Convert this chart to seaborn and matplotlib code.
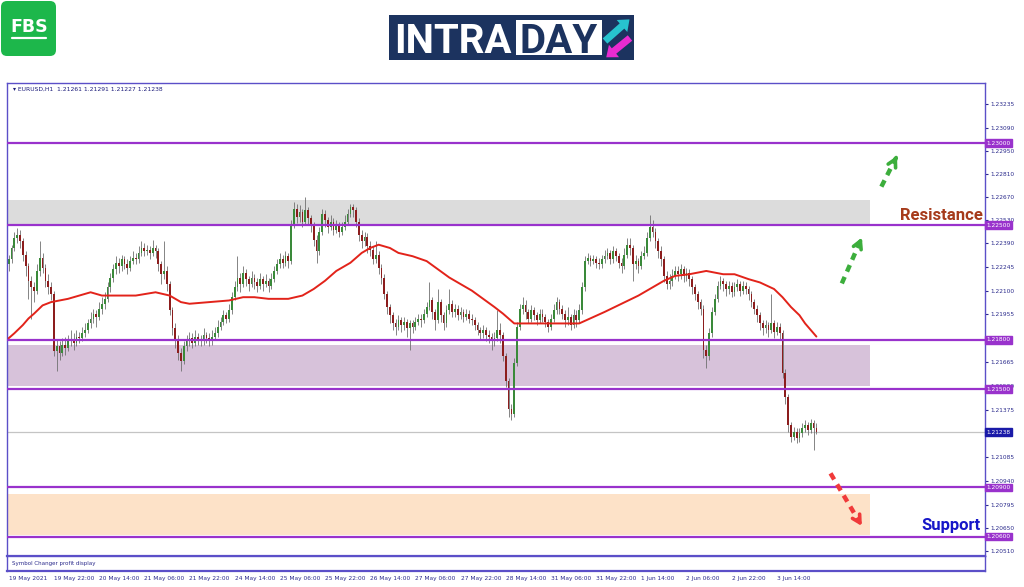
import numpy as np
import matplotlib
matplotlib.use('Agg')
import matplotlib.pyplot as plt
import matplotlib.transforms as mtransforms
from matplotlib.patches import Rectangle, FancyBboxPatch, FancyArrow
import seaborn as sns

sns.set_style('white')
plt.rcParams['font.family'] = ['DejaVu Sans']

# ---- EURUSD H1 candles ----
first_open = 1.2226
closes = [
    1.2229, 1.2236, 1.2242, 1.2244, 1.2240, 1.2232, 1.2225, 1.2216, 1.2212, 1.2210,
    1.2222, 1.2230, 1.2224, 1.2216, 1.2212, 1.2208, 1.2173, 1.2176, 1.2172, 1.2177,
    1.2175, 1.2179, 1.2180, 1.2178, 1.2182, 1.2181, 1.2184, 1.2186, 1.2190, 1.2193,
    1.2196, 1.2194, 1.2199, 1.2202, 1.2205, 1.2212, 1.2218, 1.2223, 1.2227, 1.2225,
    1.2229, 1.2226, 1.2224, 1.2228, 1.2230, 1.2229, 1.2233, 1.2236, 1.2234, 1.2235,
    1.2233, 1.2236, 1.2234, 1.2226, 1.2220, 1.2222, 1.2214, 1.2198, 1.2187, 1.2180,
    1.2172, 1.2167, 1.2176, 1.2179, 1.2181, 1.2178, 1.2182, 1.2180, 1.2179, 1.2183,
    1.2181, 1.2179, 1.2182, 1.2184, 1.2188, 1.2191, 1.2195, 1.2193, 1.2198, 1.2206,
    1.2212, 1.2218, 1.2214, 1.2221, 1.2217, 1.2214, 1.2218, 1.2215, 1.2213, 1.2217,
    1.2214, 1.2216, 1.2213, 1.2217, 1.2222, 1.2226, 1.2229, 1.2227, 1.2231, 1.2228,
    1.2250, 1.2260, 1.2255, 1.2258, 1.2252, 1.2259, 1.2254, 1.2250, 1.2241, 1.2234,
    1.2246, 1.2257, 1.2253, 1.2249, 1.2252, 1.2247, 1.2250, 1.2246, 1.2249, 1.2252,
    1.2257, 1.2261, 1.2259, 1.2252, 1.2244, 1.2240, 1.2243, 1.2237, 1.2235, 1.2229,
    1.2232, 1.2224, 1.2218, 1.2208, 1.2200, 1.2195, 1.2190, 1.2188, 1.2192, 1.2189,
    1.2191, 1.2187, 1.2190, 1.2188, 1.2191, 1.2193, 1.2192, 1.2196, 1.2200, 1.2204,
    1.2197, 1.2192, 1.2203, 1.2195, 1.2190, 1.2198, 1.2202, 1.2197, 1.2199, 1.2195,
    1.2197, 1.2194, 1.2196, 1.2193, 1.2192, 1.2189, 1.2186, 1.2184, 1.2186, 1.2183,
    1.2182, 1.2179, 1.2181, 1.2186, 1.2183, 1.2170, 1.2155, 1.2138, 1.2135, 1.2166,
    1.2188, 1.2199, 1.2201, 1.2197, 1.2193, 1.2198, 1.2195, 1.2192, 1.2196, 1.2194,
    1.2191, 1.2188, 1.2193, 1.2198, 1.2203, 1.2199, 1.2196, 1.2192, 1.2194, 1.2189,
    1.2195, 1.2192, 1.2198, 1.2212, 1.2228, 1.2230, 1.2228, 1.2229, 1.2227, 1.2226,
    1.2229, 1.2231, 1.2233, 1.2229, 1.2234, 1.2231, 1.2227, 1.2225, 1.2232, 1.2238,
    1.2236, 1.2226, 1.2228, 1.2225, 1.2231, 1.2233, 1.2242, 1.2249, 1.2246, 1.2240,
    1.2234, 1.2229, 1.2219, 1.2214, 1.2216, 1.2219, 1.2222, 1.2220, 1.2223, 1.2219,
    1.2221, 1.2217, 1.2212, 1.2208, 1.2203, 1.2199, 1.2174, 1.2170, 1.2184, 1.2197,
    1.2205, 1.2213, 1.2216, 1.2214, 1.2211, 1.2213, 1.2209, 1.2212, 1.2214, 1.2210,
    1.2213, 1.2211, 1.2208, 1.2203, 1.2199, 1.2195, 1.2190, 1.2187, 1.2189, 1.2186,
    1.2190, 1.2185, 1.2188, 1.2184, 1.2160, 1.2145, 1.2128, 1.2121, 1.2124, 1.2120,
    1.2123, 1.2126, 1.2128, 1.2125, 1.2129, 1.21261, 1.21238,
]
highs = [
    1.2232, 1.2238, 1.2246, 1.2248, 1.2247, 1.2242, 1.2234, 1.2227, 1.2219, 1.2215,
    1.2226, 1.2240, 1.2233, 1.2226, 1.2220, 1.2215, 1.2210, 1.2180, 1.2179, 1.2181,
    1.2182, 1.2183, 1.2186, 1.2184, 1.2186, 1.2185, 1.2188, 1.2190, 1.2193, 1.2197,
    1.2199, 1.2198, 1.2203, 1.2206, 1.2209, 1.2215, 1.2221, 1.2226, 1.2231, 1.2230,
    1.2232, 1.2231, 1.2229, 1.2231, 1.2234, 1.2233, 1.2237, 1.2240, 1.2239, 1.2238,
    1.2237, 1.2241, 1.2238, 1.2236, 1.2228, 1.2240, 1.2225, 1.2216, 1.2200, 1.2190,
    1.2183, 1.2175, 1.2179, 1.2183, 1.2185, 1.2184, 1.2186, 1.2184, 1.2183, 1.2187,
    1.2185, 1.2184, 1.2186, 1.2188, 1.2192, 1.2194, 1.2198, 1.2197, 1.2202, 1.2209,
    1.2216, 1.2231, 1.2221, 1.2225, 1.2223, 1.2219, 1.2222, 1.2220, 1.2218, 1.2221,
    1.2219, 1.2220, 1.2218, 1.2221, 1.2225, 1.2229, 1.2233, 1.2232, 1.2234, 1.2233,
    1.2253, 1.2264, 1.2263, 1.2262, 1.2260, 1.2267, 1.2261, 1.2256, 1.2252, 1.2244,
    1.2249, 1.2260, 1.2259, 1.2255, 1.2256, 1.2254, 1.2253, 1.2252, 1.2252, 1.2256,
    1.2260, 1.2263, 1.2263, 1.2261, 1.2254, 1.2247, 1.2246, 1.2245, 1.2240, 1.2237,
    1.2240, 1.2234, 1.2226, 1.2220, 1.2210, 1.2202, 1.2197, 1.2193, 1.2195, 1.2194,
    1.2194, 1.2193, 1.2192, 1.2192, 1.2194, 1.2196, 1.2196, 1.2199, 1.2203, 1.2215,
    1.2206, 1.2199, 1.2211, 1.2205, 1.2197, 1.2201, 1.2211, 1.2204, 1.2202, 1.2201,
    1.2200, 1.2199, 1.2199, 1.2198, 1.2196, 1.2194, 1.2191, 1.2188, 1.2189, 1.2188,
    1.2186, 1.2184, 1.2185, 1.2198, 1.2190, 1.2185, 1.2172, 1.2157, 1.2141, 1.2169,
    1.2191, 1.2202, 1.2206, 1.2204, 1.2199, 1.2201, 1.2200, 1.2197, 1.2199, 1.2199,
    1.2196, 1.2193, 1.2196, 1.2202, 1.2206, 1.2205, 1.2201, 1.2198, 1.2200, 1.2196,
    1.2199, 1.2198, 1.2202, 1.2215, 1.2231, 1.2233, 1.2232, 1.2232, 1.2231, 1.2230,
    1.2232, 1.2235, 1.2236, 1.2235, 1.2237, 1.2236, 1.2233, 1.2230, 1.2236, 1.2242,
    1.2242, 1.2238, 1.2232, 1.2230, 1.2234, 1.2237, 1.2246, 1.2256, 1.2253, 1.2248,
    1.2242, 1.2237, 1.2231, 1.2222, 1.2220, 1.2223, 1.2225, 1.2225, 1.2226, 1.2225,
    1.2224, 1.2223, 1.2219, 1.2214, 1.2210, 1.2205, 1.2201, 1.2177, 1.2187, 1.2200,
    1.2208, 1.2216, 1.2219, 1.2218, 1.2216, 1.2216, 1.2215, 1.2215, 1.2217, 1.2216,
    1.2216, 1.2215, 1.2213, 1.2210, 1.2205, 1.2201, 1.2197, 1.2192, 1.2192, 1.2191,
    1.2208, 1.2192, 1.2191, 1.2190, 1.2186, 1.2162, 1.2147, 1.2130, 1.2127, 1.2126,
    1.2126, 1.2129, 1.2131, 1.2130, 1.2132, 1.2131, 1.21291,
]
lows = [
    1.2222, 1.2227, 1.2234, 1.2239, 1.2236, 1.2228, 1.2219, 1.2205, 1.2193, 1.2203,
    1.2208, 1.2219, 1.2221, 1.2212, 1.2208, 1.2204, 1.2170, 1.2161, 1.2168, 1.2170,
    1.2171, 1.2173, 1.2176, 1.2174, 1.2176, 1.2178, 1.2179, 1.2182, 1.2184, 1.2187,
    1.2190, 1.2188, 1.2192, 1.2196, 1.2199, 1.2203, 1.2209, 1.2215, 1.2220, 1.2221,
    1.2222, 1.2223, 1.2220, 1.2222, 1.2226, 1.2226, 1.2227, 1.2231, 1.2231, 1.2232,
    1.2229, 1.2231, 1.2230, 1.2222, 1.2214, 1.2217, 1.2210, 1.2195, 1.2183, 1.2175,
    1.2168, 1.2161, 1.2165, 1.2173, 1.2176, 1.2175, 1.2176, 1.2177, 1.2176, 1.2177,
    1.2178, 1.2176, 1.2177, 1.2180, 1.2182, 1.2186, 1.2189, 1.2190, 1.2191, 1.2196,
    1.2204, 1.2210, 1.2209, 1.2212, 1.2213, 1.2210, 1.2212, 1.2211, 1.2209, 1.2211,
    1.2210, 1.2212, 1.2209, 1.2211, 1.2215, 1.2220, 1.2224, 1.2224, 1.2225, 1.2224,
    1.2226, 1.2248, 1.2251, 1.2252, 1.2249, 1.2250, 1.2250, 1.2246, 1.2237, 1.2227,
    1.2232, 1.2244, 1.2249, 1.2245, 1.2247, 1.2244, 1.2245, 1.2243, 1.2244, 1.2247,
    1.2250, 1.2255, 1.2255, 1.2249, 1.2240, 1.2236, 1.2237, 1.2233, 1.2231, 1.2226,
    1.2227, 1.2220, 1.2214, 1.2205, 1.2196, 1.2190, 1.2186, 1.2183, 1.2186, 1.2185,
    1.2186, 1.2182, 1.2174, 1.2184, 1.2186, 1.2189, 1.2188, 1.2190, 1.2194, 1.2198,
    1.2193, 1.2186, 1.2190, 1.2191, 1.2186, 1.2188, 1.2196, 1.2194, 1.2194, 1.2192,
    1.2193, 1.2191, 1.2192, 1.2190, 1.2189, 1.2186, 1.2183, 1.2180, 1.2181, 1.2179,
    1.2178, 1.2174, 1.2176, 1.2179, 1.2178, 1.2167, 1.2151, 1.2133, 1.2131, 1.2133,
    1.2164, 1.2186, 1.2196, 1.2193, 1.2190, 1.2191, 1.2192, 1.2189, 1.2190, 1.2191,
    1.2188, 1.2185, 1.2186, 1.2191, 1.2196, 1.2196, 1.2193, 1.2188, 1.2189, 1.2186,
    1.2187, 1.2188, 1.2190, 1.2196, 1.2210, 1.2226, 1.2225, 1.2226, 1.2224, 1.2223,
    1.2224, 1.2227, 1.2229, 1.2226, 1.2227, 1.2228, 1.2224, 1.2221, 1.2223, 1.2230,
    1.2232, 1.2216, 1.2223, 1.2221, 1.2223, 1.2229, 1.2231, 1.2240, 1.2243, 1.2236,
    1.2230, 1.2225, 1.2215, 1.2211, 1.2211, 1.2213, 1.2217, 1.2216, 1.2217, 1.2215,
    1.2216, 1.2213, 1.2208, 1.2204, 1.2199, 1.2195, 1.2169, 1.2163, 1.2168, 1.2182,
    1.2195, 1.2203, 1.2211, 1.2210, 1.2207, 1.2208, 1.2206, 1.2207, 1.2210, 1.2207,
    1.2208, 1.2208, 1.2204, 1.2200, 1.2196, 1.2191, 1.2186, 1.2183, 1.2184, 1.2182,
    1.2184, 1.2181, 1.2183, 1.2180, 1.2157, 1.2141, 1.2124, 1.2118, 1.2119, 1.2117,
    1.2118, 1.2121, 1.2124, 1.2122, 1.2123, 1.2113, 1.21227,
]

# moving average (red line), read at a number of bars
ma_bar = [0, 2, 5, 7, 9, 12, 15, 21, 29, 33, 45, 52, 57, 61, 64, 71, 78, 83, 87, 92,
          99, 104, 108, 112, 116, 121, 125, 128, 131, 135, 138, 143, 148, 152, 156,
          160, 164, 168, 172, 175, 177, 179, 189, 202, 211, 217, 223, 228, 232, 236,
          241, 247, 253, 257, 262, 266, 271, 274, 277, 280, 282, 284, 286]
ma_val = [1.2181, 1.2184, 1.2189, 1.2193, 1.2196, 1.2201, 1.2203, 1.2205, 1.2209,
          1.2207, 1.2207, 1.2209, 1.2207, 1.2203, 1.2202, 1.2203, 1.2204, 1.2206,
          1.2206, 1.2205, 1.2205, 1.2207, 1.2211, 1.2216, 1.2222, 1.2227, 1.2233,
          1.2236, 1.2238, 1.2236, 1.2233, 1.2231, 1.2228, 1.2223, 1.2218, 1.2214,
          1.2210, 1.2205, 1.2200, 1.2196, 1.2193, 1.2190, 1.2190, 1.2190, 1.2197,
          1.2202, 1.2207, 1.2212, 1.2216, 1.2219, 1.2220, 1.2222, 1.2220, 1.2220,
          1.2217, 1.2215, 1.2211, 1.2206, 1.2200, 1.2195, 1.2190, 1.2186, 1.2182]

date_labels = ['19 May 2021', '19 May 22:00', '20 May 14:00', '21 May 06:00',
               '21 May 22:00', '24 May 14:00', '25 May 06:00', '25 May 22:00',
               '26 May 14:00', '27 May 06:00', '27 May 22:00', '28 May 14:00',
               '31 May 06:00', '31 May 22:00', '1 Jun 14:00', '2 Jun 06:00',
               '2 Jun 22:00', '3 Jun 14:00']
price_ticks = [1.20510, 1.20650, 1.20795, 1.20940, 1.21085, 1.21375, 1.21520,
               1.21665, 1.21955, 1.22100, 1.22245, 1.22390, 1.22530, 1.22670,
               1.22810, 1.22950, 1.23090, 1.23235]
levels = [1.2300, 1.2250, 1.2180, 1.2150, 1.2090, 1.2060]
last_price = 1.21238
zone_low = [1.2250, 1.2152, 1.2061]
zone_high = [1.2265, 1.2177, 1.2086]
zone_colors = ['#dcdcdc', '#d7c2da', '#fde2c8']

# ---- figure ----
fig = plt.figure(figsize=(10.24, 5.87), dpi=100)
ax = fig.add_axes([7/1024, 31/587, 978/1024, 473/587])
sub = fig.add_axes([7/1024, 16/587, 978/1024, 15/587], sharex=ax)

frame = '#5b4fc8'
x_left, x_right = -0.6, 345.7
zone_end = 305

n = len(closes)
bars = np.arange(n)
c = np.array(closes)
o = np.array([first_open] + closes[:-1])
h = np.maximum(np.array(highs), np.maximum(o, c))
l = np.minimum(np.array(lows), np.minimum(o, c))
up = c >= o

for lo_, hi_, col in zip(zone_low, zone_high, zone_colors):
    ax.add_patch(Rectangle((x_left, lo_), zone_end - x_left, hi_ - lo_,
                           facecolor=col, edgecolor='none', zorder=0))

ax.axhline(last_price, color='#c4c4c4', lw=0.9, zorder=1)

ax.vlines(bars, l, h, color='#707070', lw=0.6, zorder=2)
body = np.maximum(np.abs(c - o), 0.00003)
ax.bar(bars, body, bottom=np.minimum(o, c), width=0.62,
       color=np.where(up, '#3a8a3a', '#8c1d1d'), linewidth=0, zorder=2.5)

sns.lineplot(x=ma_bar, y=ma_val, ax=ax, color='#e2231a', lw=1.4, zorder=3)

for lv in levels:
    ax.axhline(lv, color='#9932cc', lw=1.6, zorder=4)

ax.set_xlim(x_left, x_right)
ax.set_ylim(1.20482, 1.23366)

ax.yaxis.tick_right()
ax.set_yticks(price_ticks)
ax.set_yticklabels([f'{t:.5f}' for t in price_ticks])
ax.tick_params(axis='y', labelsize=4.2, colors='#2b2b8c', length=2.5, pad=1.5,
               direction='out', right=True)
ax.tick_params(axis='x', bottom=False, labelbottom=False)
ax.set_xlabel('')
ax.set_ylabel('')
for sp in ax.spines.values():
    sp.set_color(frame)
    sp.set_linewidth(1.0)
ax.spines['bottom'].set_linewidth(1.6)

trans = mtransforms.blended_transform_factory(ax.transAxes, ax.transData)
for lv in levels:
    ax.text(1.0015, lv, f'{lv:.5f}', transform=trans, fontsize=4.2, color='white',
            ha='left', va='center', clip_on=False, zorder=10,
            bbox=dict(boxstyle='square,pad=0.22', fc='#9932cc', ec='#9932cc'))
ax.text(1.0015, last_price, f'{last_price:.5f}', transform=trans, fontsize=4.2,
        color='white', ha='left', va='center', clip_on=False, zorder=10,
        bbox=dict(boxstyle='square,pad=0.22', fc='#1a1aa8', ec='#1a1aa8'))

ax.text(0.998, 1.22556, 'Resistance', transform=trans, ha='right', va='center',
        fontsize=12, fontweight='bold', color='#a63b1b', family='Roboto', zorder=6)
ax.text(0.9955, 1.20671, 'Support', transform=trans, ha='right', va='center',
        fontsize=12, fontweight='bold', color='#1616c8', family='Roboto', zorder=6)

# dashed arrows
arrows = [((295, 1.22144), (302.5, 1.22439), '#3cae3c'),
          ((309, 1.22734), (315, 1.22937), '#3cae3c'),
          ((291, 1.20986), (302.6, 1.20650), '#f03a3a')]
for (x0, y0), (x1, y1), col in arrows:
    ax.plot([x0, x0 + 0.85 * (x1 - x0)], [y0, y0 + 0.85 * (y1 - y0)], color=col,
            lw=3.2, dashes=(1.6, 1.3), solid_capstyle='butt', zorder=6)
    ax.annotate('', xy=(x1, y1), xytext=(x0 + 0.8 * (x1 - x0), y0 + 0.8 * (y1 - y0)),
                arrowprops=dict(arrowstyle='->,head_length=0.55,head_width=0.3',
                                color=col, lw=2.6), zorder=6)

# sub window + time axis
sub.set_ylim(0, 1)
sub.set_yticks([])
sub.set_xticks(np.arange(0, 16 * len(date_labels), 16))
sub.set_xticklabels(date_labels)
for lab in sub.get_xticklabels():
    lab.set_ha('left')
sub.tick_params(axis='x', labelsize=4.2, colors='#2b2b8c', length=2.5, pad=1,
                direction='out')
for sp in sub.spines.values():
    sp.set_color(frame)
    sp.set_linewidth(1.0)
sub.spines['bottom'].set_linewidth(1.6)
sub.text(0.005, 0.5, 'Symbol Changer profit display', transform=sub.transAxes,
         fontsize=4.0, color='#2b2b8c', va='center', ha='left')

fig.text(13/1024, 1 - 89/587, '\u25be EURUSD,H1  1.21261 1.21291 1.21227 1.21238',
         fontsize=4.3, color='#1c1c7a', va='center', ha='left')

# header logos (pixel space overlay)
ovl = fig.add_axes([0, 0, 1, 1])
ovl.set_xlim(0, 1024)
ovl.set_ylim(587, 0)
ovl.axis('off')
ovl.patch.set_alpha(0)

ovl.add_patch(FancyBboxPatch((1, 1), 55, 55, boxstyle='round,pad=0,rounding_size=6',
                             fc='#1db74b', ec='none'))
ovl.text(29, 27, 'FBS', color='white', fontsize=12.5, fontweight='bold',
         ha='center', va='center')
ovl.plot([12, 46], [37.5, 37.5], color='white', lw=1.6)

ovl.add_patch(Rectangle((389, 15), 245, 45, fc='#1c335f', ec='none'))
ovl.add_patch(Rectangle((516, 20), 86, 35, fc='white', ec='none'))
ovl.text(394, 53, 'INTRA', color='white', fontsize=29, fontweight='bold',
         family='Roboto', ha='left', va='baseline')
ovl.text(519, 53, 'DAY', color='#1c335f', fontsize=29, fontweight='bold',
         family='Roboto', ha='left', va='baseline')
ovl.add_patch(FancyArrow(605, 41, 17, -15, width=7, head_width=16, head_length=10,
                         length_includes_head=False, fc='#27c3cf', ec='none'))
ovl.add_patch(FancyArrow(630, 38, -16, 13, width=7, head_width=16, head_length=10,
                         length_includes_head=False, fc='#ea2bd0', ec='none'))

fig.savefig('out.png', dpi=100, facecolor='white')
